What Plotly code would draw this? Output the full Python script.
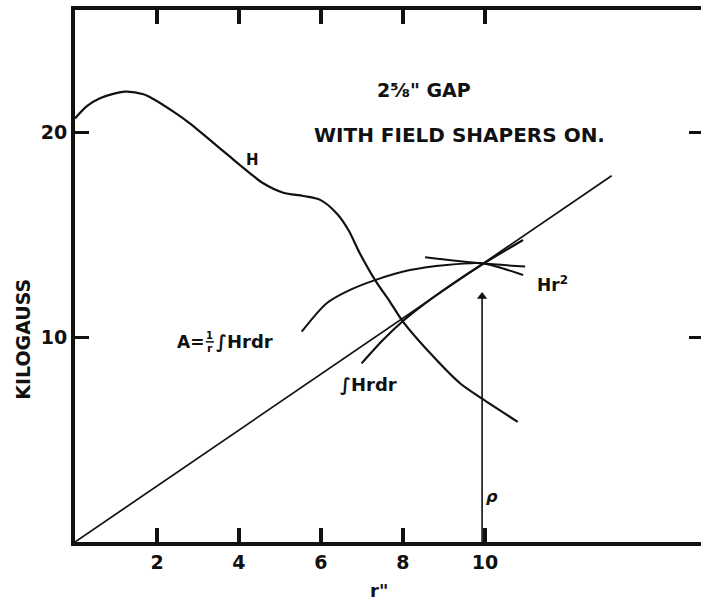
import plotly.graph_objects as go

# ---- data ----
h_r = [0.0, 0.29, 0.61, 1.22, 1.67, 1.91, 2.4, 2.8, 3.29, 3.78, 4.27, 4.59, 5.08, 5.57, 5.98, 6.38, 6.67, 6.95, 7.32, 7.68, 8.0, 8.74, 9.39, 9.92, 10.8]
h_val = [20.7, 21.3, 21.69, 22.01, 21.88, 21.65, 21.03, 20.46, 19.65, 18.83, 18.02, 17.53, 17.07, 16.91, 16.72, 16.07, 15.25, 14.1, 12.8, 11.75, 10.77, 9.06, 7.76, 7.02, 5.87]

line_r = [0.0, 13.09]
line_val = [0.0, 17.9]

a_r = [5.53, 6.14, 6.71, 7.32, 8.17, 9.07, 9.92, 10.3, 10.93]
a_val = [10.28, 11.67, 12.32, 12.8, 13.29, 13.54, 13.62, 13.45, 13.05]

hr2_r = [8.54, 9.92, 10.98]
hr2_val = [13.92, 13.62, 13.46]

int_r = [6.99, 7.5, 8.0, 8.5, 9.2, 9.92, 10.93]
int_val = [8.73, 9.85, 10.8, 11.6, 12.6, 13.55, 14.76]

rho = 9.93
arrow_top = 12.0

x_ticks = [2, 4, 6, 8, 10]
x_tick_labels = ["2", "4", "6", "8", "10"]
y_ticks = [10, 20]
y_tick_labels = ["10", "20"]

x_range = [0, 15.27]
y_range = [0, 26.0]

FONT = "DejaVu Sans"
INK = "#111111"

fig = go.Figure()

for xs, ys, w in [(h_r, h_val, 2.2), (line_r, line_val, 1.7), (a_r, a_val, 2.0),
                  (hr2_r, hr2_val, 2.0), (int_r, int_val, 2.2)]:
    fig.add_trace(go.Scatter(x=xs, y=ys, mode="lines",
                             line=dict(color=INK, width=w, shape="spline", smoothing=0.8),
                             showlegend=False, hoverinfo="skip"))

# rho arrow (vertical line with arrowhead at the top)
fig.add_trace(go.Scatter(x=[rho, rho], y=[0, arrow_top], mode="lines",
                         line=dict(color=INK, width=1.6),
                         showlegend=False, hoverinfo="skip"))
fig.add_trace(go.Scatter(x=[rho], y=[arrow_top], mode="markers",
                         marker=dict(symbol="triangle-up", size=9, color=INK,
                                     line=dict(width=0)),
                         showlegend=False, hoverinfo="skip"))

# invisible trace bound to right-hand tick axis
fig.add_trace(go.Scatter(x=[None], y=[None], yaxis="y2", showlegend=False, hoverinfo="skip"))

fig.update_layout(
    width=701, height=606,
    margin=dict(l=75, r=0, t=10, b=64, autoexpand=False),
    paper_bgcolor="white", plot_bgcolor="white",
    font=dict(family=FONT, color=INK, size=18, weight="bold"),
    xaxis=dict(range=x_range, showgrid=False, zeroline=False, automargin=False,
               showline=True, linecolor=INK, linewidth=4, mirror="ticks",
               ticks="inside", ticklen=14, tickwidth=3.5, tickcolor=INK,
               tickvals=x_ticks, ticktext=x_tick_labels,
               tickfont=dict(size=19, family=FONT, weight="bold"),
               ticklabelstandoff=0),
    yaxis=dict(range=y_range, showgrid=False, zeroline=False, automargin=False,
               showline=True, linecolor=INK, linewidth=4, mirror=False,
               ticks="inside", ticklen=14, tickwidth=3, tickcolor=INK,
               tickvals=y_ticks, ticktext=y_tick_labels,
               tickfont=dict(size=19, family=FONT, weight="bold"),
               ticklabelstandoff=0),
    yaxis2=dict(range=y_range, overlaying="y", side="right", showgrid=False,
                zeroline=False, showline=False, ticks="inside", ticklen=12,
                tickwidth=3, tickcolor=INK, tickvals=y_ticks, showticklabels=False,
                automargin=False),
)

def txt(x, y, s, size=16, xanchor="center", **kw):
    fig.add_annotation(x=x, y=y, xref="x", yref="y", text=s, showarrow=False,
                       xanchor=xanchor, yanchor="middle",
                       font=dict(family=FONT, size=size, color=INK, weight="bold"), **kw)

txt(8.52, 22.09, "2⅝\" GAP", size=19)
txt(9.38, 19.87, "WITH FIELD SHAPERS ON.", size=20)
txt(4.33, 18.65, "H", size=15)
txt(11.22, 12.61, "Hr<sup>2</sup>", size=17, xanchor="left")
txt(6.41, 7.67, "∫Hrdr", size=18, xanchor="left")
txt(2.44, 9.79, "A=", size=17, xanchor="left")
txt(3.29, 10.08, "1", size=10)
txt(3.29, 9.45, "r", size=11)
txt(3.40, 9.79, "∫Hrdr", size=18, xanchor="left")
fig.add_shape(type="line", x0=3.19, x1=3.39, y0=9.78, y1=9.78, xref="x", yref="y",
              line=dict(color=INK, width=1.5))
fig.add_annotation(x=10.17, y=2.2, xref="x", yref="y", text="<i>ρ</i>", showarrow=False,
                   xanchor="center", yanchor="middle",
                   font=dict(family=FONT, size=16, color=INK, weight="bold"))

# axis titles
fig.add_annotation(x=0.486, y=-0.092, xref="paper", yref="paper", text="r\"",
                   xanchor="center", yanchor="middle",
                   showarrow=False, font=dict(family=FONT, size=18, color=INK, weight="bold"))
fig.add_annotation(x=-0.0823, y=0.381, xref="paper", yref="paper", text="KILOGAUSS",
                   xanchor="center", yanchor="middle",
                   textangle=-90, showarrow=False,
                   font=dict(family=FONT, size=19, color=INK, weight="bold"))

fig.write_html("out.html", config={"displayModeBar": False},
               post_script="document.body.style.margin='0';document.body.style.overflow='hidden';")
